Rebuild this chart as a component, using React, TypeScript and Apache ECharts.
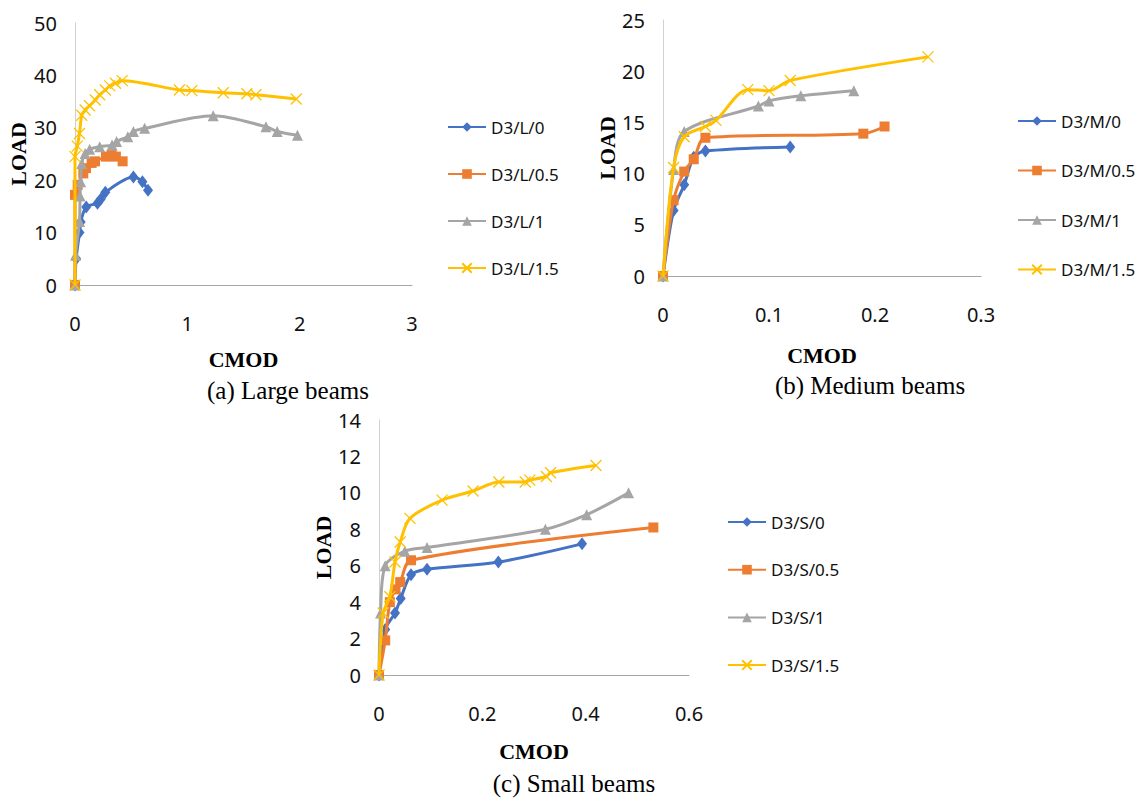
import React, { useEffect, useRef } from "react";
import * as echarts from "echarts";

// ---- data: [CMOD, LOAD] pairs ----
const largeL0 = [[0, 0], [0.01, 5], [0.04, 10], [0.05, 12], [0.1, 14.9], [0.2, 15.6], [0.23, 16.4], [0.27, 17.7], [0.52, 20.6], [0.6, 19.7], [0.65, 18.1]];
const largeL05 = [[0, 0], [0, 17.2], [0.024, 19.1], [0.074, 21.3], [0.098, 22.3], [0.148, 23.3], [0.178, 23.6], [0.276, 24.5], [0.326, 24.8], [0.364, 24.5], [0.424, 23.6]];
const largeL1 = [[0, 0], [0.005, 5.7], [0.04, 12.1], [0.045, 17], [0.05, 19.7], [0.06, 23.2], [0.09, 25.1], [0.13, 25.9], [0.22, 26.4], [0.33, 26.7], [0.37, 27.4], [0.47, 28.3], [0.52, 29.3], [0.62, 29.9], [1.23, 32.3], [1.7, 30.2], [1.8, 29.3], [1.98, 28.6]];
const largeL15 = [[0, 0], [0, 24.5], [0.02, 26.5], [0.04, 28.9], [0.06, 32.4], [0.09, 33.4], [0.13, 34.2], [0.18, 35.3], [0.22, 36.3], [0.27, 37.2], [0.31, 38], [0.36, 38.5], [0.42, 39], [0.93, 37.2], [1.04, 37.1], [1.32, 36.7], [1.53, 36.5], [1.61, 36.3], [1.97, 35.5]];

const mediumM0 = [[0, 0], [0.01, 6.4], [0.02, 8.9], [0.029, 11.6], [0.04, 12.2], [0.12, 12.6]];
const mediumM05 = [[0, 0], [0.01, 7.4], [0.02, 10.2], [0.029, 11.4], [0.04, 13.5], [0.189, 13.9], [0.209, 14.6]];
const mediumM1 = [[0, 0], [0.01, 10.4], [0.02, 14.1], [0.09, 16.6], [0.1, 17.1], [0.13, 17.6], [0.18, 18.1]];
const mediumM15 = [[0, 0], [0.01, 10.6], [0.02, 13.6], [0.04, 14.6], [0.05, 15.2], [0.08, 18.2], [0.1, 18.1], [0.12, 19.1], [0.25, 21.4]];

const smallS0 = [[0, 0], [0.012, 2.5], [0.031, 3.4], [0.042, 4.2], [0.062, 5.5], [0.093, 5.8], [0.231, 6.2], [0.393, 7.2]];
const smallS05 = [[0, 0], [0.012, 1.9], [0.021, 4], [0.032, 4.7], [0.041, 5.1], [0.062, 6.3], [0.531, 8.1]];
const smallS1 = [[0, 0], [0.003, 3.4], [0.012, 6], [0.05, 6.8], [0.093, 7], [0.322, 8], [0.402, 8.8], [0.483, 10]];
const smallS15 = [[0, 0], [0.008, 3.4], [0.021, 4.3], [0.031, 6.2], [0.041, 7.3], [0.06, 8.6], [0.122, 9.6], [0.182, 10.1], [0.232, 10.6], [0.283, 10.6], [0.292, 10.7], [0.324, 10.9], [0.332, 11.1], [0.42, 11.5]];

const largeNames = ["D3/L/0", "D3/L/0.5", "D3/L/1", "D3/L/1.5"];
const mediumNames = ["D3/M/0", "D3/M/0.5", "D3/M/1", "D3/M/1.5"];
const smallNames = ["D3/S/0", "D3/S/0.5", "D3/S/1", "D3/S/1.5"];

const largeAxis = { xMax: 3, xStep: 1, yMax: 50, yStep: 10 };
const mediumAxis = { xMax: 0.3, xStep: 0.1, yMax: 25, yStep: 5 };
const smallAxis = { xMax: 0.6, xStep: 0.2, yMax: 14, yStep: 2 };

const captions = ["(a) Large beams", "(b) Medium beams", "(c) Small beams"];

const COLORS = ["#4472C4", "#ED7D31", "#A5A5A5", "#FFC000"];
const SYMBOLS = ["diamond", "rect", "triangle", "path://M0,0L10,10M0,10L10,0"];
const SYMBOL_SIZES: any[] = [[10, 13], 10, 11, 11];

const TICK_FONT = "'Noto Sans', sans-serif";
const TITLE_FONT = "'Liberation Serif', 'Times New Roman', serif";

function makeSeries(names: string[], datas: number[][][], idx: number) {
  return names.map((n, i) => ({
    name: n,
    type: "line",
    xAxisIndex: idx,
    yAxisIndex: idx,
    data: datas[i],
    smooth: 0.3,
    clip: false,
    symbol: SYMBOLS[i],
    symbolSize: SYMBOL_SIZES[i],
    showAllSymbol: true,
    lineStyle: { color: COLORS[i], width: 3 },
    itemStyle:
      i === 3
        ? { color: COLORS[i], borderColor: COLORS[i], borderWidth: 1.3 }
        : { color: COLORS[i], borderColor: COLORS[i], borderWidth: 0 },
    emphasis: { disabled: true },
    z: 2 + i,
  }));
}

function makeX(idx: number, ax: any, gap: number) {
  return {
    type: "value",
    gridIndex: idx,
    min: 0,
    max: ax.xMax,
    interval: ax.xStep,
    name: "CMOD",
    nameLocation: "middle",
    nameGap: gap,
    nameTextStyle: { fontFamily: TITLE_FONT, fontWeight: "bold", fontSize: 22, color: "#000" },
    axisLine: { show: true, onZero: false, lineStyle: { color: "#a6a6a6", width: 1 } },
    axisTick: { show: false },
    splitLine: { show: false },
    axisLabel: { fontFamily: TICK_FONT, fontSize: 20, color: "#111", margin: 28 },
  };
}

function makeY(idx: number, ax: any, gap: number) {
  return {
    type: "value",
    gridIndex: idx,
    min: 0,
    max: ax.yMax,
    interval: ax.yStep,
    name: "LOAD",
    nameLocation: "middle",
    nameRotate: 90,
    nameGap: gap,
    nameTextStyle: { fontFamily: TITLE_FONT, fontWeight: "bold", fontSize: 22, color: "#000" },
    axisLine: { show: true, lineStyle: { color: "#d0d0d0", width: 1 } },
    axisTick: { show: false },
    splitLine: { show: false },
    axisLabel: { fontFamily: TICK_FONT, fontSize: 20, color: "#111", margin: 18 },
  };
}

function makeLegend(names: string[], left: number, top: number, gap: number) {
  return {
    data: names,
    orient: "vertical",
    left,
    top,
    itemWidth: 38,
    itemHeight: 12,
    itemGap: gap,
    padding: 0,
    textStyle: { fontFamily: TICK_FONT, fontSize: 17, color: "#111", lineHeight: 20 },
    selectedMode: false,
  };
}

export default function App() {
  const ref = useRef<HTMLDivElement>(null);
  useEffect(() => {
    if (!ref.current) return;
    const chart = echarts.init(ref.current, null, { renderer: "svg" });
    const option: any = {
      animation: false,
      backgroundColor: "#fff",
      grid: [
        { left: 75, top: 23, width: 337, height: 262 },
        { left: 663, top: 20, width: 318, height: 256 },
        { left: 379, top: 420, width: 310, height: 255 },
      ],
      xAxis: [makeX(0, largeAxis, 63), makeX(1, mediumAxis, 68), makeX(2, smallAxis, 65)],
      yAxis: [makeY(0, largeAxis, 46), makeY(1, mediumAxis, 42), makeY(2, smallAxis, 36)],
      legend: [
        makeLegend(largeNames, 447, 117, 27),
        makeLegend(mediumNames, 1017, 111, 29.5),
        makeLegend(smallNames, 727, 512, 27.7),
      ],
      series: [
        ...makeSeries(largeNames, [largeL0, largeL05, largeL1, largeL15], 0),
        ...makeSeries(mediumNames, [mediumM0, mediumM05, mediumM1, mediumM15], 1),
        ...makeSeries(smallNames, [smallS0, smallS05, smallS1, smallS15], 2),
      ],
      graphic: [
        { type: "text", x: 288, y: 390, style: { text: captions[0], fontFamily: TITLE_FONT, fontSize: 25, fill: "#000", textAlign: "center", textVerticalAlign: "middle" } },
        { type: "text", x: 870, y: 385, style: { text: captions[1], fontFamily: TITLE_FONT, fontSize: 25, fill: "#000", textAlign: "center", textVerticalAlign: "middle" } },
        { type: "text", x: 574, y: 783, style: { text: captions[2], fontFamily: TITLE_FONT, fontSize: 25, fill: "#000", textAlign: "center", textVerticalAlign: "middle" } },
      ],
    };
    chart.setOption(option);
    return () => chart.dispose();
  }, []);
  return (
    <div
      ref={ref}
      style={{ position: "fixed", left: 0, top: 0, width: 1144, height: 800, background: "#fff" }}
    />
  );
}
